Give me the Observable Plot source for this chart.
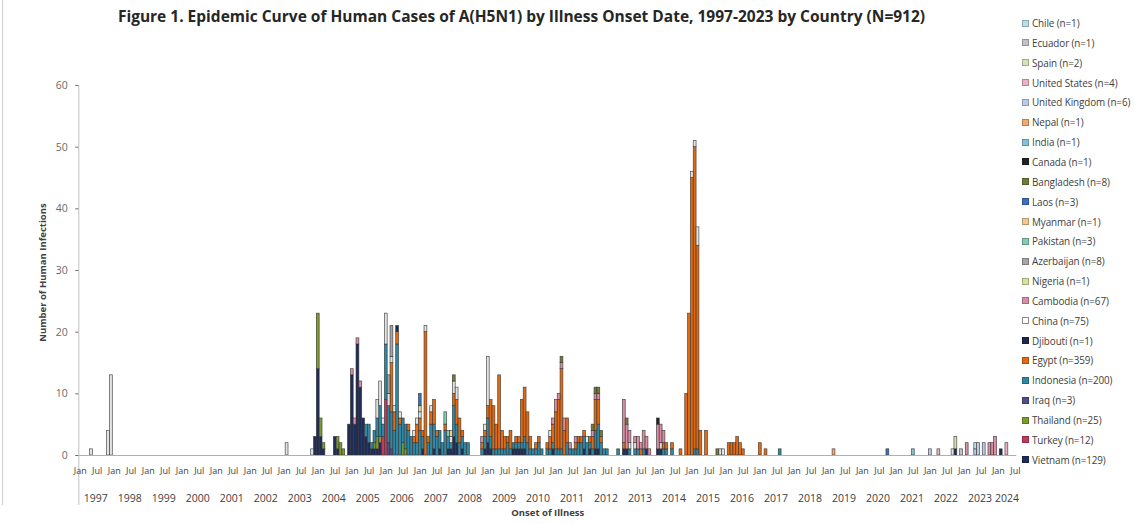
<!DOCTYPE html>
<html><head><meta charset="utf-8">
<script src="https://cdn.jsdelivr.net/npm/d3@7"></script>
<script src="https://cdn.jsdelivr.net/npm/@observablehq/plot@0.6"></script>
<style>
body{margin:0;background:#fff;font-family:"Open Sans",sans-serif;}
#wrap{position:relative;width:1134px;height:524px;overflow:hidden;background:#fff}
#chart{position:absolute;left:0;top:0}
#border{position:absolute;left:2px;top:0;width:1px;height:505px;background:#cfcfcf}
#title{position:absolute;left:0;top:5px;width:1043px;text-align:center;font-weight:bold;font-size:15.5px;color:#262626;white-space:nowrap}
#legend{position:absolute;left:1022px;top:0;width:112px;height:524px}
.li{position:absolute;left:0;height:14px;display:flex;align-items:center;white-space:nowrap;font-size:9.9px;letter-spacing:-0.1px;color:#404040}
.sw{width:7px;height:7px;border:1px solid #555;margin-right:3px;box-sizing:border-box;flex:none}
</style></head><body>
<div id="wrap"><div id="border"></div><div id="chart"></div>
<div id="title">Figure 1. Epidemic Curve of Human Cases of A(H5N1) by Illness Onset Date, 1997-2023 by Country (N=912)</div>
<div id="legend"></div></div>
<script>
// ---- data: [onset month, cases] per country ----
const vietnam = [["2003-12",3],["2004-01",14],["2004-02",3],["2004-03",1],["2004-07",3],["2004-08",1],["2004-12",5],
["2005-01",13],["2005-02",5],["2005-03",18],["2005-04",11],["2005-05",6],["2005-06",3],["2005-07",2],["2005-08",1],["2005-09",1],["2005-10",1],["2005-11",2],
["2007-02",1],["2007-06",1],["2007-08",1],["2007-11",1],["2007-12",1],["2008-01",3],["2008-02",2],["2008-04",1],["2008-12",1],
["2009-01",2],["2009-02",1],["2009-10",1],["2009-11",1],["2009-12",1],["2010-01",1],["2010-02",1],["2010-12",1],
["2011-11",1],["2012-01",1],["2012-03",1],["2012-04",1],["2013-01",1],["2013-02",1],["2013-09",1],["2014-01",1],["2014-02",1],
["2022-10",1],["2024-02",1]];
const turkey = [["2005-12",3],["2006-01",9]];
const thailand = [["2004-01",9],["2004-02",3],["2004-03",1],["2004-08",2],["2004-09",2],["2004-10",1],["2005-09",1],["2005-10",2],["2005-11",1],["2006-07",2],["2006-08",1]];
const iraq = [["2006-02",2],["2006-03",1]];
const indonesia = [["2005-06",2],["2005-07",3],["2005-08",1],["2005-09",2],["2005-10",3],["2005-11",5],["2005-12",2],
["2006-01",9],["2006-02",6],["2006-03",6],["2006-04",4],["2006-05",18],["2006-06",5],["2006-07",4],["2006-08",4],["2006-09",4],["2006-10",3],["2006-11",2],["2006-12",2],
["2007-01",4],["2007-02",2],["2007-04",2],["2007-05",5],["2007-06",4],["2007-07",3],["2007-08",3],["2007-09",2],["2007-10",4],["2007-11",2],["2007-12",1],
["2008-01",5],["2008-02",3],["2008-03",2],["2008-04",2],["2008-05",2],["2008-06",2],["2008-11",1],["2008-12",2],
["2009-01",4],["2009-02",2],["2009-03",1],["2009-04",1],["2009-05",1],["2009-06",1],["2009-07",1],["2009-08",2],["2009-09",1],["2009-10",1],["2009-11",1],["2009-12",1],
["2010-01",1],["2010-02",2],["2010-03",2],["2010-04",1],["2010-05",1],["2010-06",1],["2010-07",2],["2010-08",1],["2010-10",1],["2010-11",1],["2010-12",1],
["2011-01",1],["2011-02",1],["2011-03",1],["2011-05",2],["2011-06",1],["2011-07",1],["2011-08",1],["2011-09",2],["2011-10",2],["2011-11",2],["2011-12",2],
["2012-01",1],["2012-02",1],["2012-03",3],["2012-04",4],["2012-05",2],["2012-06",1],["2012-07",1],["2012-11",1],
["2013-03",1],["2013-05",1],["2013-06",1],["2013-08",1],["2014-03",1],["2014-04",1],["2014-06",1],["2015-02",1],["2015-03",1],["2017-08",1]];
const egypt = [["2006-03",8],["2006-04",3],["2006-05",2],["2006-06",1],["2006-09",1],["2006-11",1],["2006-12",3],
["2007-01",2],["2007-02",1],["2007-03",20],["2007-04",1],["2007-05",2],["2007-06",4],["2007-07",1],["2007-10",1],
["2008-01",2],["2008-02",4],["2008-03",4],["2008-04",1],["2008-11",1],["2008-12",1],
["2009-01",2],["2009-02",6],["2009-03",7],["2009-04",4],["2009-05",12],["2009-06",3],["2009-07",2],["2009-08",1],["2009-09",3],["2009-11",1],["2009-12",1],
["2010-01",7],["2010-02",8],["2010-03",5],["2010-04",2],["2010-06",1],["2010-07",1],["2010-10",1],["2010-11",2],["2010-12",3],
["2011-01",6],["2011-02",8],["2011-03",13],["2011-04",4],["2011-05",4],["2011-08",1],["2011-09",1],["2011-10",1],["2011-11",1],
["2012-01",1],["2012-02",2],["2012-03",5],["2012-04",4],["2012-05",1],["2013-01",1],["2013-07",1],
["2014-03",1],["2014-04",1],["2014-06",1],["2014-09",1],["2014-11",10],["2014-12",23],
["2015-01",45],["2015-02",49],["2015-03",33],["2015-04",4],["2015-06",4],
["2016-02",2],["2016-03",2],["2016-04",2],["2016-05",3],["2016-06",2],["2016-07",1],["2017-01",2],["2017-03",1]];
const djibouti = [["2006-05",1]];
const china = [["1997-05",1],["1997-11",4],["1997-12",13],["2003-02",2],["2003-11",1],
["2005-10",3],["2005-11",4],["2005-12",1],["2006-01",5],["2006-02",2],["2006-03",1],["2006-04",1],["2006-06",1],["2006-11",1],["2006-12",1],
["2007-01",1],["2007-03",1],["2007-05",1],["2007-12",1],["2008-01",2],["2008-02",2],["2008-12",1],
["2009-01",8],["2010-11",1],["2011-12",1],["2013-03",1],["2013-05",1],["2014-02",1],
["2015-01",1],["2015-02",1],["2015-03",3],["2015-11",1],["2015-12",1],["2022-09",1]];
const cambodia = [["2005-01",1],["2005-02",1],["2005-03",1],["2005-04",1],["2008-11",1],
["2010-12",1],["2011-01",2],["2011-02",1],["2011-03",1],["2011-04",2],["2011-06",1],["2011-08",1],
["2012-02",1],["2012-03",1],["2012-04",1],
["2013-01",7],["2013-02",4],["2013-03",2],["2013-05",1],["2013-06",2],["2013-07",1],["2013-08",3],["2013-09",2],["2013-10",1],
["2014-01",4],["2014-02",3],["2014-03",2],["2023-02",2],["2023-10",2],["2023-11",2],["2023-12",3]];
const nigeria = [["2007-01",1]];
const azerbaijan = [["2006-02",3],["2006-03",5]];
const pakistan = [["2007-10",2],["2007-11",1]];
const myanmar = [["2007-12",1]];
const laos = [["2007-01",2],["2020-10",1]];
const bangladesh = [["2008-01",1],["2011-03",1],["2012-02",1],["2012-03",1],["2012-04",1],["2012-05",1],["2013-02",1],["2015-10",1]];
const canada = [["2014-01",1]];
const india = [["2021-07",1]];
const nepal = [["2019-03",1]];
const unitedKingdom = [["2022-01",1],["2023-05",1],["2023-06",2],["2023-08",2]];
const unitedStates = [["2022-04",1],["2024-04",2]];
const spain = [["2022-10",2]];
const ecuador = [["2022-12",1]];
const chile = [["2023-05",1]];

// stacking order, bottom first
const countries = ["Vietnam","Turkey","Thailand","Iraq","Indonesia","Egypt","Djibouti","China","Cambodia","Nigeria","Azerbaijan","Pakistan","Myanmar","Laos","Bangladesh","Canada","India","Nepal","United Kingdom","United States","Spain","Ecuador","Chile"];
const seriesData = [vietnam,turkey,thailand,iraq,indonesia,egypt,djibouti,china,cambodia,nigeria,azerbaijan,pakistan,myanmar,laos,bangladesh,canada,india,nepal,unitedKingdom,unitedStates,spain,ecuador,chile];
const legendLabels = ["Vietnam (n=129)","Turkey (n=12)","Thailand (n=25)","Iraq (n=3)","Indonesia (n=200)","Egypt (n=359)","Djibouti (n=1)","China (n=75)","Cambodia (n=67)","Nigeria (n=1)","Azerbaijan (n=8)","Pakistan (n=3)","Myanmar (n=1)","Laos (n=3)","Bangladesh (n=8)","Canada (n=1)","India (n=1)","Nepal (n=1)","United Kingdom (n=6)","United States (n=4)","Spain (n=2)","Ecuador (n=1)","Chile (n=1)"];
const colors = ["#1f2d5c","#c23a5c","#7f9a2e","#4d4f8f","#2f89a5","#e26a10","#1c2b4d","#e2e2e2","#d98ea3","#d5e3a0","#a6a6a6","#80cdb4","#f0c890","#3f6fc0","#6f7d3a","#222222","#80c2d9","#f8a66a","#bccbeb","#edb1c5","#d3e2b2","#c2c2c2","#b9dfe9"];
const monthLabels = ["Jan","Jul"];
const years = d3.range(1997, 2025).map(String);
const yTicks = [0,10,20,30,40,50,60];

// ---- build ----
const nMonths = (2024-1997)*12 + 7; // Jan 1997 .. Jul 2024
const idx = s => { const [y,m] = s.split("-").map(Number); return (y-1997)*12 + (m-1); };
const rows = [];
countries.forEach((c, k) => seriesData[k].forEach(([m, n]) => rows.push({i: idx(m), n, country: c})));
const tickIdx = d3.range(nMonths).filter(i => i % 6 === 0);
const yearFull = years.slice(0, -1).map(y => ({i: (+y-1997)*12 + 6, label: y}));
const yearLast = [{i: (2024-1997)*12 + 3, label: years[years.length-1]}];

const W = 1020, ML = 78.3, MR = 3.7;
const step = (W - ML - MR) / nMonths;

const chart = Plot.plot({
  width: W, height: 524,
  marginLeft: ML, marginRight: MR, marginTop: 85, marginBottom: 69,
  style: {fontFamily: "Open Sans, sans-serif", background: "transparent", overflow: "visible"},
  x: {type: "band", domain: d3.range(nMonths), padding: 0, axis: null, label: null},
  y: {domain: [0, 60], axis: null, label: null},
  color: {domain: countries, range: colors},
  marks: [
    Plot.barY(rows, {x: "i", y: "n", fill: "country", order: countries, stroke: "#333333", strokeWidth: 0.7, strokeOpacity: 0.85}),
    Plot.ruleY([0], {stroke: "#b0b0b0", strokeWidth: 1}),
    Plot.ruleX([0], {y1: 0, y2: 60, dx: -step/2, stroke: "#c0c0c0"}),
    Plot.ruleX([0], {y1: 0, y2: -8.1, dx: -step/2, stroke: "#c0c0c0"}),
    Plot.axisY({ticks: yTicks, anchor: "left", label: null, tickSize: 3, tickPadding: 8, fontSize: 10.5, color: "#6a6a6a", tickFormat: d => d}),
    Plot.axisX({ticks: tickIdx, label: null, tickFormat: i => monthLabels[(i % 12) / 6], tickSize: 0, tickPadding: 12, fontSize: 9, color: "#404040"}),
    Plot.text(yearFull, {x: "i", y: 0, text: "label", dx: -step/2, dy: 43, fontSize: 10.5, fill: "#404040"}),
    Plot.text(yearLast, {x: "i", y: 0, text: "label", dy: 43, fontSize: 10.5, fill: "#404040"}),
    Plot.text(["Onset of Illness"], {frameAnchor: "bottom", dy: 60, fontSize: 9.5, fontWeight: "bold", fill: "#404040"}),
    Plot.text(["Number of Human Infections"], {frameAnchor: "left", textAnchor: "middle", rotate: -90, dx: -36, dy: 2, fontSize: 9.5, fontWeight: "bold", fill: "#404040"})
  ]
});
document.getElementById("chart").appendChild(chart);

// legend (top = last series)
const lg = document.getElementById("legend");
for (let k = countries.length - 1, r = 0; k >= 0; k--, r++) {
  const d = document.createElement("div");
  d.className = "li";
  d.style.top = (23 + r * 19.85 - 7) + "px";
  const sw = document.createElement("span");
  sw.className = "sw";
  sw.style.background = countries[k] === "China" ? "#ffffff" : colors[k];
  sw.style.borderColor = countries[k] === "China" ? "#8a8a8a" : d3.color(colors[k]).darker(0.8);
  d.appendChild(sw);
  d.appendChild(document.createTextNode(legendLabels[k]));
  lg.appendChild(d);
}
</script>
</body></html>
